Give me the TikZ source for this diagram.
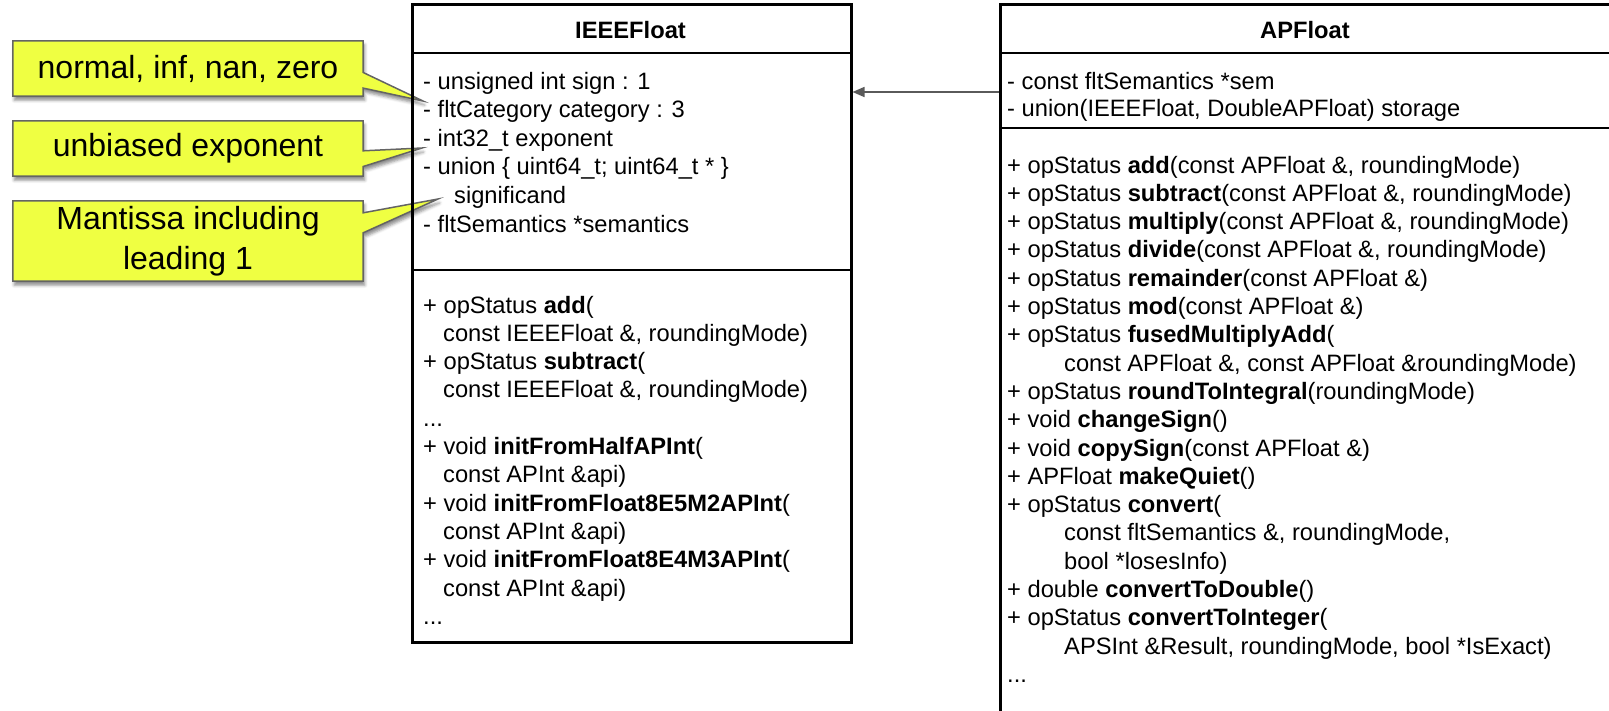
\documentclass[tikz,border=0pt]{standalone}
\usepackage{fontspec}
\setmainfont{Liberation Sans}
\usetikzlibrary{arrows.meta,shadows.blur,calc}

\pgfdeclarelayer{background}
\pgfsetlayers{background,main}

\definecolor{noteyellow}{RGB}{239,255,66}
\definecolor{noteedge}{RGB}{100,100,100}
\definecolor{linkgray}{RGB}{90,90,90}

\tikzset{
  classframe/.style={draw=black, line width=2.5pt, inner sep=0pt, anchor=north west},
  divider/.style={draw=black, line width=2.5pt},
  member/.style={anchor=base west, inner sep=0pt, font=\fontsize{23.7}{28}\selectfont},
  classtitle/.style={anchor=base, inner sep=0pt, font=\bfseries\fontsize{23.7}{28}\selectfont},
  notetext/.style={inner sep=0pt, align=center, font=\fontsize{32}{40}\selectfont},
  noteshape/.style={fill=noteyellow, draw=noteedge, line width=1.5pt, line join=miter,
    blur shadow={shadow xshift=1.5pt, shadow yshift=-4pt, shadow blur radius=3pt, shadow opacity=45}},
  assoc/.style={draw=linkgray, line width=1.6pt, -{Triangle[length=12pt,width=10pt]}},
}

\begin{document}
\begin{tikzpicture}[x=1pt,y=-1pt]
\useasboundingbox (0,0) rectangle (1609,710);
\clip (0,0) rectangle (1609,710);

% ---------------- IEEEFloat class ----------------
\node[classframe, minimum width=439pt, minimum height=638pt] (ieee) at (411,3) {};
\draw[divider] (ieee.west |- 0,53) -- (ieee.east |- 0,53);
\draw[divider] (ieee.west |- 0,270) -- (ieee.east |- 0,270);
\node[classtitle] (ieeetitle) at (630.5,38) {IEEEFloat};

\node[member] (ia1) at (423,89)    {- unsigned int sign : 1};
\node[member] (ia2) at (423,117.6) {- fltCategory category : 3};
\node[member] (ia3) at (423,146.2) {- int32\_t exponent};
\node[member] (ia4) at (423,174.8) {- union \{ uint64\_t; uint64\_t * \}};
\node[member] (ia5) at (454,203.4) {significand};
\node[member] (ia6) at (423,232)   {- fltSemantics *semantics};

\node[member] (im1)  at (423,313)   {+ opStatus \textbf{add}(};
\node[member] (im2)  at (443,341.3) {const IEEEFloat \&, roundingMode)};
\node[member] (im3)  at (423,369.6) {+ opStatus \textbf{subtract}(};
\node[member] (im4)  at (443,397.9) {const IEEEFloat \&, roundingMode)};
\node[member] (im5)  at (423,426.2) {...};
\node[member] (im6)  at (423,454.5) {+ void \textbf{initFromHalfAPInt}(};
\node[member] (im7)  at (443,482.8) {const APInt \&api)};
\node[member] (im8)  at (423,511.1) {+ void \textbf{initFromFloat8E5M2APInt}(};
\node[member] (im9)  at (443,539.4) {const APInt \&api)};
\node[member] (im10) at (423,567.7) {+ void \textbf{initFromFloat8E4M3APInt}(};
\node[member] (im11) at (443,596)   {const APInt \&api)};
\node[member] (im12) at (423,624.3) {...};

% ---------------- APFloat class ----------------
\node[classframe, minimum width=612pt, minimum height=760pt] (apf) at (999,3) {};
\draw[divider] (apf.west |- 0,53) -- (apf.east |- 0,53);
\draw[divider] (apf.west |- 0,128) -- (apf.east |- 0,128);
\node[classtitle] (apftitle) at (1305,38) {APFloat};

\node[member] (aa1) at (1007,89)  {- const fltSemantics *sem};
\node[member] (aa2) at (1007,116) {- union(IEEEFloat, DoubleAPFloat) storage};

\node[member] (am1)  at (1007,173)   {+ opStatus \textbf{add}(const APFloat \&, roundingMode)};
\node[member] (am2)  at (1007,201.3) {+ opStatus \textbf{subtract}(const APFloat \&, roundingMode)};
\node[member] (am3)  at (1007,229.6) {+ opStatus \textbf{multiply}(const APFloat \&, roundingMode)};
\node[member] (am4)  at (1007,257.9) {+ opStatus \textbf{divide}(const APFloat \&, roundingMode)};
\node[member] (am5)  at (1007,286.2) {+ opStatus \textbf{remainder}(const APFloat \&)};
\node[member] (am6)  at (1007,314.5) {+ opStatus \textbf{mod}(const APFloat \&)};
\node[member] (am7)  at (1007,342.8) {+ opStatus \textbf{fusedMultiplyAdd}(};
\node[member] (am8)  at (1064,371.1) {const APFloat \&, const APFloat \&roundingMode)};
\node[member] (am9)  at (1007,399.4) {+ opStatus \textbf{roundToIntegral}(roundingMode)};
\node[member] (am10) at (1007,427.7) {+ void \textbf{changeSign}()};
\node[member] (am11) at (1007,456)   {+ void \textbf{copySign}(const APFloat \&)};
\node[member] (am12) at (1007,484.3) {+ APFloat \textbf{makeQuiet}()};
\node[member] (am13) at (1007,512.6) {+ opStatus \textbf{convert}(};
\node[member] (am14) at (1064,540.9) {const fltSemantics \&, roundingMode,};
\node[member] (am15) at (1064,569.2) {bool *losesInfo)};
\node[member] (am16) at (1007,597.5) {+ double \textbf{convertToDouble}()};
\node[member] (am17) at (1007,625.8) {+ opStatus \textbf{convertToInteger}(};
\node[member] (am18) at (1064,654.1) {APSInt \&Result, roundingMode, bool *IsExact)};
\node[member] (am19) at (1007,682.4) {...};

% association between the two classes
\draw[assoc] (apf.west |- 0,92) -- (ieee.east |- 0,92);

% ---------------- notes ----------------
\coordinate (tipcat) at (423,101);
\coordinate (tipexp) at (422,148);
\coordinate (tipsig) at (438,199);

\node[notetext, minimum width=350pt, minimum height=55pt] (n1) at (188,68.5) {normal, inf, nan, zero};
\node[notetext, minimum width=350pt, minimum height=55pt] (n2) at (188,148.5) {unbiased exponent};
\node[notetext, minimum width=350pt, minimum height=80pt] (n3) at (188,241) {Mantissa including\\leading 1};

\begin{pgfonlayer}{background}
\path[noteshape] (n1.north west) -- (n1.north east) -- ($(n1.north east)+(0,31.7)$)
  -- (tipcat) -- ($(n1.north east)+(0,47.3)$) -- (n1.south east) -- (n1.south west) -- cycle;
\path[noteshape] (n2.north west) -- (n2.north east) -- ($(n2.north east)+(0,30)$)
  -- (tipexp) -- ($(n2.north east)+(0,45.7)$) -- (n2.south east) -- (n2.south west) -- cycle;
\path[noteshape] (n3.north west) -- (n3.north east) -- ($(n3.north east)+(0,12)$)
  -- (tipsig) -- ($(n3.north east)+(0,32)$) -- (n3.south east) -- (n3.south west) -- cycle;
\end{pgfonlayer}
\end{tikzpicture}
\end{document}
